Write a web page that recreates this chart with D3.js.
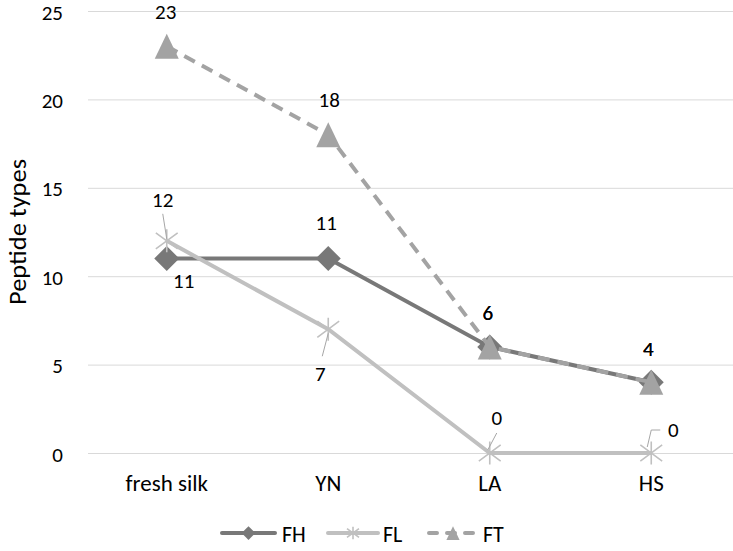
<!DOCTYPE html>
<html><head><meta charset="utf-8">
<script src="https://cdn.jsdelivr.net/npm/d3@7"></script>
<style>body{margin:0;background:#fff}svg{display:block}text{font-family:Carlito,Lato,"Open Sans",sans-serif;fill:#000}</style>
</head><body><svg id="c" width="733" height="551"></svg>
<script>
const categories = ["fresh silk","YN","LA","HS"];
const FH = [11,11,6,4];
const FL = [12,7,0,0];
const FT = [23,18,6,4];
const yTicks = [0,5,10,15,20,25];
const seriesNames = ["FH","FL","FT"];

// label offsets (style): [dx, dy] per point
const labelOffsets = {
  FH: [[17,22],[-2,-36],[-2,-34],[-3,-33]],
  FL: [[-4,-41],[-8,45],[7,-35],[22,-23]],
  FT: [[-1,-34],[1,-35],[-2,-34],[-3,-33]]
};
const leaders = {FL: [
  [[-4,-27],[0,-2]],
  [[-6,27],[0,4]],
  [[7,-20],[-2,-3]],
  [[-4,-6],[0,-23],[9,-23]]
]};

const DFS = 21;   // digits
const svg = d3.select("#c");
const x = d3.scaleBand().domain(categories).range([86,732]);
const y = d3.scaleLinear().domain([0,25]).range([453,11]);
const cx = c => x(c) + x.bandwidth()/2;

// gridlines
svg.append("g").selectAll("line").data(yTicks).join("line")
  .attr("x1",88).attr("x2",733).attr("y1",d=>y(d)+0.5).attr("y2",d=>y(d)+0.5)
  .attr("stroke","#d9d9d9").attr("stroke-width",1);

// y axis tick labels
const yAxis = d3.axisLeft(y).tickValues(yTicks).tickSize(0).tickPadding(0);
const ga = svg.append("g").attr("transform","translate(63,0)").call(yAxis);
ga.select(".domain").remove();
ga.selectAll("text").attr("font-size",DFS).attr("font-family","Carlito,Lato,sans-serif").attr("fill","#000")
  .attr("dy",null).attr("dominant-baseline","central").attr("y",1);

// x axis labels
const xAxis = d3.axisBottom(x).tickSize(0).tickPadding(0);
const gx = svg.append("g").attr("transform","translate(0,453)").call(xAxis);
gx.select(".domain").remove();
gx.selectAll("text").attr("font-size",23).attr("font-family","Carlito,Lato,sans-serif").attr("fill","#000")
  .attr("dy",null).attr("y",38);

// y title
svg.append("text").attr("transform","translate(17,232) rotate(-90)").attr("text-anchor","middle")
  .attr("dominant-baseline","central").attr("font-size",24)
  .attr("textLength",146).attr("lengthAdjust","spacingAndGlyphs").text("Peptide types");

const styles = {
  FH:{color:"#787878", dash:null, marker:"diamond"},
  FL:{color:"#c0c0c0", dash:null, marker:"star"},
  FT:{color:"#a3a3a3", dash:"12,8", marker:"triangle"}
};
const dataMap = {FH, FL, FT};

function drawMarker(g, type, px, py, color, s){
  s = s || 1;
  if(type==="diamond"){
    const r = 12.5*s;
    g.append("path").attr("d",`M${px},${py-r}L${px+r},${py}L${px},${py+r}L${px-r},${py}Z`).attr("fill",color);
  } else if(type==="triangle"){
    const w = 12*s, h = 12.5*s;
    g.append("path").attr("d",`M${px},${py-h}L${px+w},${py+h}L${px-w},${py+h}Z`).attr("fill",color);
  } else {
    const r = 11.5*s;
    const p = d3.path();
    p.moveTo(px-r*0.95,py-r*0.7); p.lineTo(px+r*0.95,py+r*0.7);
    p.moveTo(px-r*0.95,py+r*0.7); p.lineTo(px+r*0.95,py-r*0.7);
    p.moveTo(px,py-r); p.lineTo(px,py+r);
    g.append("path").attr("d",p.toString()).attr("stroke",color).attr("stroke-width",1.6).attr("fill","none");
  }
}

const line = d3.line().x((d,i)=>cx(categories[i])).y(d=>y(d));
seriesNames.forEach(name=>{
  const st = styles[name], vals = dataMap[name];
  const g = svg.append("g");
  g.append("path").datum(vals).attr("d",line).attr("fill","none").attr("stroke",st.color)
   .attr("stroke-width",4).attr("stroke-dasharray",st.dash);
  vals.forEach((v,i)=>drawMarker(g, st.marker, cx(categories[i]), y(v), st.color));
});

// leader lines
Object.keys(leaders).forEach(name=>{
  const vals = dataMap[name];
  leaders[name].forEach((pts,i)=>{
    const px = cx(categories[i]), py = y(vals[i]);
    svg.append("path").attr("d", d3.line()(pts.map(p=>[px+p[0],py+p[1]])))
      .attr("fill","none").attr("stroke","#a6a6a6").attr("stroke-width",1);
  });
});

// data labels
seriesNames.forEach(name=>{
  const vals = dataMap[name];
  vals.forEach((v,i)=>{
    const o = labelOffsets[name][i];
    svg.append("text").attr("x",cx(categories[i])+o[0]).attr("y",y(v)+o[1])
      .attr("text-anchor","middle").attr("dominant-baseline","central")
      .attr("font-size",DFS).text(v);
  });
});

// legend
const LY = 533;
const legendItems = [
  {name:"FH", x1:222, x2:275, tx:282},
  {name:"FL", x1:328, x2:378, tx:383},
  {name:"FT", x1:429, x2:477, tx:483}
];
const lg = svg.append("g");
legendItems.forEach(it=>{
  const st = styles[it.name];
  lg.append("line").attr("x1",it.x1).attr("x2",it.x2).attr("y1",LY).attr("y2",LY)
    .attr("stroke",st.color).attr("stroke-width",4).attr("stroke-linecap","round")
    .attr("stroke-dasharray", st.dash ? "8,10" : null);
  drawMarker(lg, st.marker, (it.x1+it.x2)/2, LY, st.color, 0.55);
  lg.append("text").attr("x",it.tx).attr("y",LY+1).attr("dominant-baseline","central")
    .attr("font-size",22).text(it.name);
});
</script></body></html>
